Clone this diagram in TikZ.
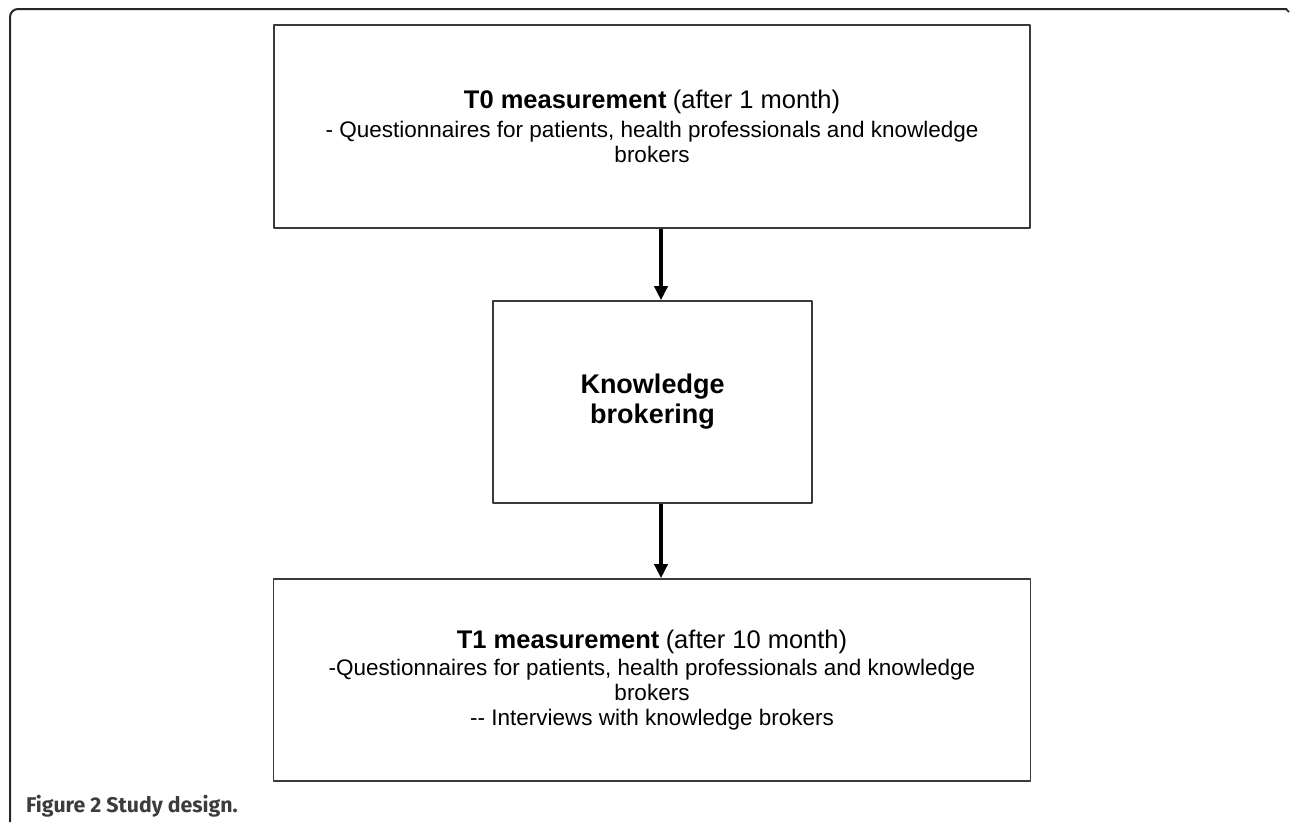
\documentclass[tikz,border=0pt]{standalone}
\usepackage{fontspec}
\setmainfont{Liberation Sans}
\newfontfamily\capfont{Fira Sans}
\usetikzlibrary{arrows.meta}
\definecolor{boxline}{HTML}{3A3A3A}
\definecolor{capgray}{HTML}{3C3C3C}
% title size inside the boxes
\newcommand\boxtitle[1]{{\fontsize{25.5}{25}\selectfont\textbf{#1}}}
\begin{document}
\begin{tikzpicture}[x=1pt, y=-1pt, line join=round,
  stagebox/.style={draw=boxline, line width=1.6pt, align=center, inner sep=0pt,
    font=\fontsize{22.5}{25}\selectfont},
  flow/.style={-{Triangle[width=13pt,length=14pt]}, line width=4pt, black}]
\useasboundingbox (0,0) rectangle (1290,822);
% outer frame
\draw[line width=2pt, rounded corners=8pt, black!85] (1287,9) -- (10,9) -- (10,822);
\draw[line width=1.5pt, black!85] (1286,9) -- (1289,12);
% boxes
\node[stagebox, minimum width=756pt, minimum height=203pt] (tzero) at (652,126.5)
  {\boxtitle{T0 measurement} {\fontsize{25.5}{25}\selectfont(after 1 month)}\\[4pt]
   - Questionnaires for patients, health professionals and knowledge\\ brokers};
\node[stagebox, minimum width=319pt, minimum height=202pt,
  font=\fontsize{27}{30}\selectfont\bfseries] (kb) at (652.5,402)
  {Knowledge\\ brokering};
\node[stagebox, minimum width=757pt, minimum height=202pt] (tone) at (652,680)
  {\boxtitle{T1 measurement} {\fontsize{25.5}{25}\selectfont(after 10 month)}\\[2pt]
   -Questionnaires for patients, health professionals and knowledge\\ brokers\\
   -{}- Interviews with knowledge brokers};
% arrows
\draw[flow] (tzero.south -| 661,0) -- (kb.north -| 661,0);
\draw[flow] (kb.south -| 661,0) -- (tone.north -| 661,0);
% caption
\node[anchor=base west, inner sep=0pt, text=capgray, font=\capfont\bfseries\fontsize{21.3}{24}\selectfont] (cap) at (26,812) {Figure 2 Study design.};
\end{tikzpicture}
\end{document}
